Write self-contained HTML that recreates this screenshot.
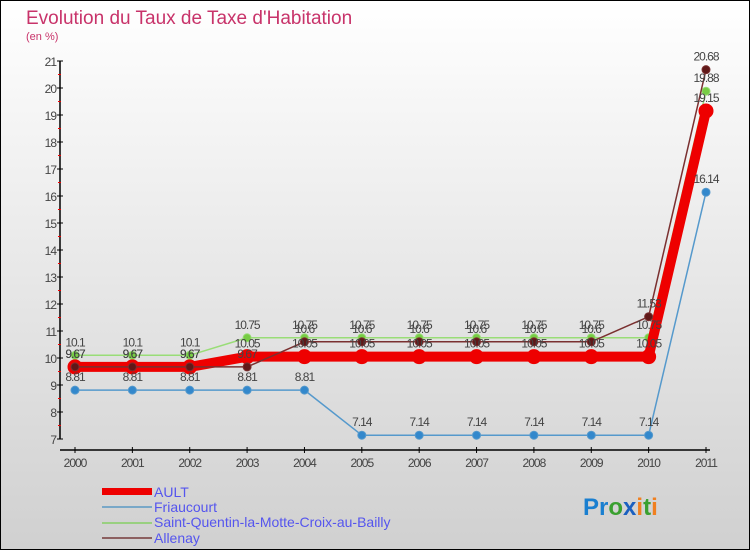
<!DOCTYPE html>
<html><head><meta charset="utf-8"><style>
html,body{margin:0;padding:0}
body{width:750px;height:550px;overflow:hidden;font-family:"Liberation Sans",sans-serif}
svg text{font-family:"Liberation Sans",sans-serif}
</style></head><body>
<svg id="chart" width="750" height="550" viewBox="0 0 750 550">
<defs><linearGradient id="bg" x1="0" y1="0" x2="0" y2="1"><stop offset="0" stop-color="#ffffff"/><stop offset="1" stop-color="#d0d0d0"/></linearGradient></defs>
<rect x="0.5" y="0.5" width="749" height="549" fill="url(#bg)" stroke="#000"/>
<text x="26" y="24" font-size="19" fill="#c8336a">Evolution du Taux de Taxe d'Habitation</text>
<text x="26" y="40" font-size="11" fill="#c8336a">(en %)</text>
<g id="axes"></g><g id="series"></g><g id="labels"></g>
<g>
<rect x="102" y="488" width="50" height="7" fill="#ee0000"/>
<text x="154" y="497" font-size="14" fill="#5555ee">AULT</text>
<line x1="102" y1="507" x2="152" y2="507" stroke="#79a8c8" stroke-width="2"/>
<text x="154" y="512" font-size="14" fill="#5555ee">Friaucourt</text>
<line x1="102" y1="523" x2="152" y2="523" stroke="#99d080" stroke-width="2"/>
<text x="154" y="527" font-size="14" fill="#5555ee">Saint-Quentin-la-Motte-Croix-au-Bailly</text>
<line x1="102" y1="538" x2="152" y2="538" stroke="#8c6060" stroke-width="2"/>
<text x="154" y="543" font-size="14" fill="#5555ee">Allenay</text>
</g>
<text x="583" y="515" font-size="24" font-weight="bold"><tspan fill="#1a7fd0">Pr</tspan><tspan fill="#3aa030">o</tspan><tspan fill="#1a60c0">x</tspan><tspan fill="#f08020">i</tspan><tspan fill="#3aa030">t</tspan><tspan fill="#f08020">i</tspan></text>
</svg>
<script>
const years=[2000,2001,2002,2003,2004,2005,2006,2007,2008,2009,2010,2011];
const ault=[9.67,9.67,9.67,10.05,10.05,10.05,10.05,10.05,10.05,10.05,10.05,19.15];
const friaucourt=[8.81,8.81,8.81,8.81,8.81,7.14,7.14,7.14,7.14,7.14,7.14,16.14];
const saintQuentin=[10.1,10.1,10.1,10.75,10.75,10.75,10.75,10.75,10.75,10.75,10.75,19.88];
const allenay=[9.67,9.67,9.67,9.67,10.6,10.6,10.6,10.6,10.6,10.6,11.53,20.68];
const yTicks=[7,8,9,10,11,12,13,14,15,16,17,18,19,20,21];
const NS="http://www.w3.org/2000/svg";
function x(i){return 75+i*(706-75)/(years.length-1);}
function y(v){return 439-(v-7)*27;}
function mk(tag,attrs,parent){const e=document.createElementNS(NS,tag);for(const k in attrs)e.setAttribute(k,attrs[k]);parent.appendChild(e);return e;}
const ax=document.getElementById('axes'),se=document.getElementById('series'),lb=document.getElementById('labels');
let l=mk('line',{x1:60,y1:y(21),x2:60,y2:y(7),stroke:'#000','stroke-width':1.5},ax);


l=mk('line',{x1:60,y1:450,x2:710,y2:450,stroke:'#000','stroke-width':1.5},ax);


yTicks.forEach(v=>{
 mk('line',{x1:57,y1:y(v),x2:63,y2:y(v),stroke:'#000'},ax);
 if(v<21)mk('line',{x1:58,y1:y(v+0.5),x2:61,y2:y(v+0.5),stroke:'#e00'},ax);
 const t=mk('text',{x:56,y:y(v)+5,'font-size':12,fill:'#444','text-anchor':'end','letter-spacing':'-1'},ax);
 t.textContent=v;
 
 
});
years.forEach((yr,i)=>{
 mk('line',{x1:x(i),y1:447,x2:x(i),y2:453,stroke:'#000'},ax);
 const t=mk('text',{x:x(i),y:467,'font-size':12,fill:'#444','text-anchor':'middle','letter-spacing':'-1'},ax);
 t.textContent=yr;
 
 
});
function series(vals,color,w,r,name,dot){
 const pts=vals.map((v,i)=>x(i)+','+y(v)).join(' ');
 const p=mk('polyline',{points:pts,fill:'none',stroke:color,'stroke-width':w,'stroke-linejoin':'round'},se);
 
 
 vals.forEach((v,i)=>{
  const c=mk('circle',{cx:x(i),cy:y(v),r:r,fill:dot,stroke:color,'stroke-width':1},se);
  
  
  const t=mk('text',{x:x(i),y:y(v)-9,'font-size':12,fill:'#444','text-anchor':'middle','letter-spacing':'-1'},lb);
  t.textContent=String(v);
  
  
 });
}
series(friaucourt,'#5599cc',1.5,4,'friaucourt','#3388cc');
series(saintQuentin,'#99dd77',1.5,4,'saint-quentin','#77cc44');
series(ault,'#ee0000',10,7,'ault','#ee0000');
series(allenay,'#7a3030',1.5,4,'allenay','#601818');
</script>
</body></html>
